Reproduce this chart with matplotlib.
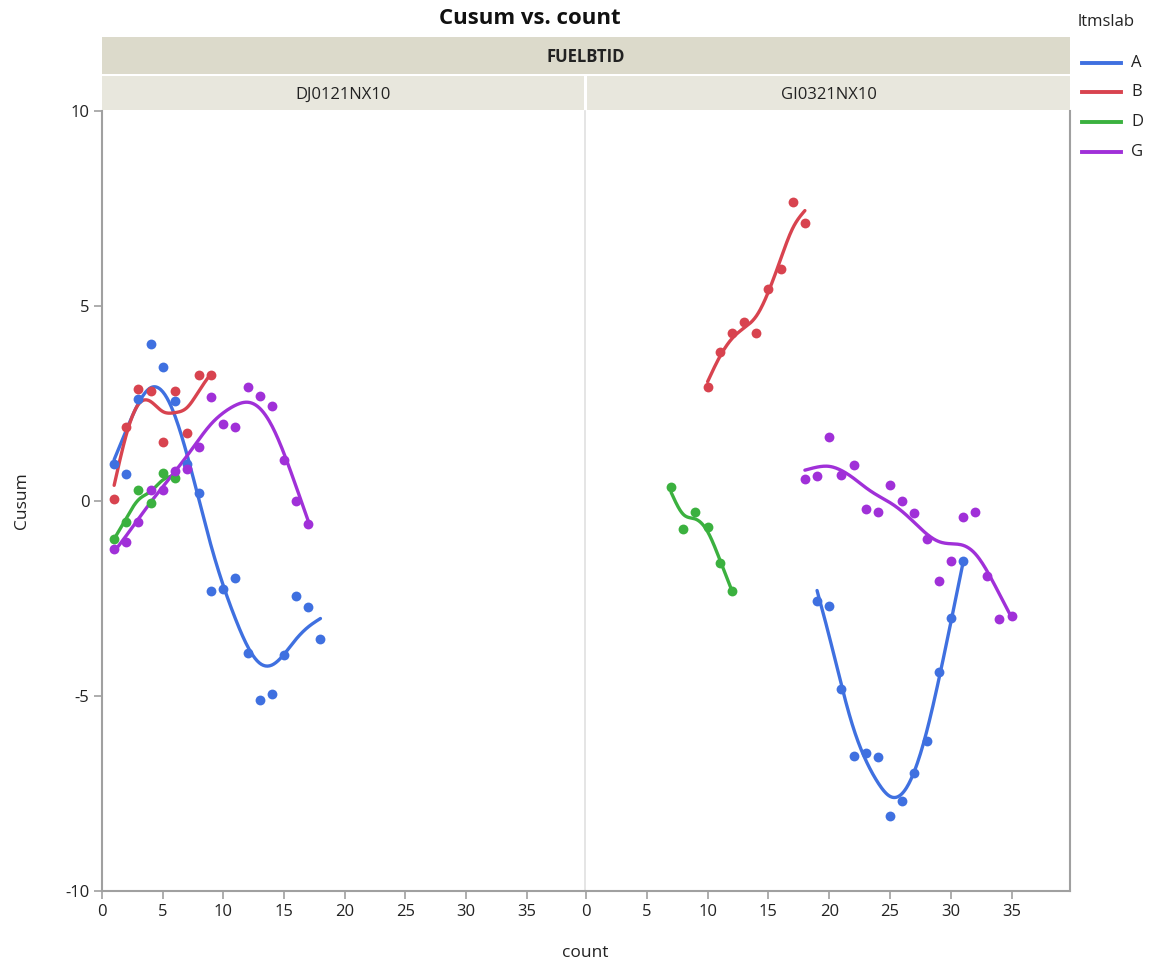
import numpy as np
import matplotlib
matplotlib.use("Agg")
import matplotlib.pyplot as plt
from matplotlib.lines import Line2D

plt.rcParams['font.family'] = ['Open Sans', 'DejaVu Sans']
plt.rcParams['axes.unicode_minus'] = False

# ---------------- data ----------------
panels = ["DJ0121NX10", "GI0321NX10"]
groups = ["A", "B", "D", "G"]
colors = {"A": "#3f70e0", "B": "#d8434f", "D": "#3bb13f", "G": "#a030d8"}

# DJ0121NX10
dj_A_x = list(range(1, 19))
dj_A_y = [0.95, 0.69, 2.62, 4.03, 3.43, 2.57, 0.95, 0.2, -2.3, -2.25, -1.97, -3.9,
          -5.1, -4.95, -3.95, -2.44, -2.72, -3.54]
dj_B_x = list(range(1, 10))
dj_B_y = [0.05, 1.9, 2.88, 2.82, 1.51, 2.82, 1.75, 3.24, 3.22]
dj_D_x = list(range(1, 7))
dj_D_y = [-0.97, -0.54, 0.28, -0.04, 0.73, 0.59]
dj_G_x = list(range(1, 18))
dj_G_y = [-1.22, -1.05, -0.54, 0.27, 0.28, 0.78, 0.82, 1.38, 2.66, 1.97, 1.9, 2.92,
          2.69, 2.43, 1.05, 0.01, -0.59]

# GI0321NX10
gi_A_x = list(range(19, 32))
gi_A_y = [-2.56, -2.69, -4.81, -6.54, -6.45, -6.56, -8.07, -7.69, -6.97, -6.15,
          -4.38, -3.0, -1.53]
gi_B_x = list(range(10, 19))
gi_B_y = [2.93, 3.82, 4.3, 4.59, 4.3, 5.43, 5.94, 7.67, 7.12]
gi_D_x = list(range(7, 13))
gi_D_y = [0.37, -0.71, -0.27, -0.66, -1.6, -2.3]
gi_G_x = list(range(18, 36))
gi_G_y = [0.56, 0.64, 1.63, 0.66, 0.92, -0.21, -0.28, 0.42, -0.01, -0.3, -0.97,
          -2.04, -1.55, -0.4, -0.28, -1.92, -3.03, -2.95]

data = {
    "DJ0121NX10": {"A": (dj_A_x, dj_A_y), "B": (dj_B_x, dj_B_y),
                   "D": (dj_D_x, dj_D_y), "G": (dj_G_x, dj_G_y)},
    "GI0321NX10": {"A": (gi_A_x, gi_A_y), "B": (gi_B_x, gi_B_y),
                   "D": (gi_D_x, gi_D_y), "G": (gi_G_x, gi_G_y)},
}


# ---------------- smoothing spline (JMP-like, lambda on standardized x) ----
def smoothing_spline(x, y, lam_std=0.03, npts=200):
    x = np.asarray(x, float)
    y = np.asarray(y, float)
    n = len(x)
    s = x.std(ddof=1)
    lam = lam_std * s ** 3
    h = np.diff(x)
    Q = np.zeros((n, n - 2))
    R = np.zeros((n - 2, n - 2))
    for j in range(1, n - 1):
        Q[j - 1, j - 1] = 1 / h[j - 1]
        Q[j, j - 1] = -1 / h[j - 1] - 1 / h[j]
        Q[j + 1, j - 1] = 1 / h[j]
        R[j - 1, j - 1] = (h[j - 1] + h[j]) / 3
        if j < n - 2:
            R[j - 1, j] = h[j] / 6
            R[j, j - 1] = h[j] / 6
    K = Q @ np.linalg.solve(R, Q.T)
    g = np.linalg.solve(np.eye(n) + lam * K, y)
    gam = np.linalg.solve(R, Q.T @ g)
    gam = np.concatenate([[0.0], gam, [0.0]])
    xs = np.linspace(x[0], x[-1], npts)
    ys = np.empty_like(xs)
    for k, xv in enumerate(xs):
        i = min(np.searchsorted(x, xv, side="right") - 1, n - 2)
        i = max(i, 0)
        hi = h[i]
        a = (x[i + 1] - xv) / hi
        b = (xv - x[i]) / hi
        ys[k] = (a * g[i] + b * g[i + 1]
                 + ((a ** 3 - a) * gam[i] + (b ** 3 - b) * gam[i + 1]) * hi ** 2 / 6)
    return xs, ys


# ---------------- figure ----------------
W, H = 1162, 968
fig = plt.figure(figsize=(W / 100, H / 100), dpi=100)

def fx(px):
    return px / W

def fy(py):
    return 1 - py / H

top, bottom = 111, 891
lefts = [(102, 585), (586, 1070)]
axes = []
for (l, r) in lefts:
    ax = fig.add_axes([fx(l), fy(bottom), fx(r - l), (bottom - top) / H])
    axes.append(ax)

grey = "#a0a0a0"
for i, (ax, pname) in enumerate(zip(axes, panels)):
    for g in groups:
        x, y = data[pname][g]
        ax.scatter(x, y, s=50, color=colors[g], zorder=3, linewidths=0)
        xs, ys = smoothing_spline(x, y)
        ax.plot(xs, ys, color=colors[g], lw=2.4, zorder=2, solid_capstyle="round")
    ax.set_xlim(0, 39.8)
    ax.set_ylim(-10, 10)
    ax.set_xticks(range(0, 40, 5))
    ax.set_yticks([-10, -5, 0, 5, 10])
    for sp in ax.spines.values():
        sp.set_visible(False)
    ax.spines["bottom"].set_visible(True)
    ax.spines["bottom"].set_color(grey)
    ax.spines["bottom"].set_linewidth(1.5)
    ax.tick_params(axis="x", colors=grey, labelcolor="#222222", labelsize=12,
                   length=6, width=1.2, direction="out", pad=3)
    if i == 0:
        ax.spines["left"].set_visible(True)
        ax.spines["left"].set_color(grey)
        ax.spines["left"].set_linewidth(1.5)
        ax.spines["right"].set_visible(True)
        ax.spines["right"].set_color("#e0e0e0")
        ax.spines["right"].set_linewidth(1.2)
        ax.tick_params(axis="y", colors=grey, labelcolor="#222222", labelsize=12,
                       length=6, width=1.2, direction="out", pad=3)
    else:
        ax.spines["right"].set_visible(True)
        ax.spines["right"].set_color(grey)
        ax.spines["right"].set_linewidth(1.5)
        ax.tick_params(axis="y", left=False, labelleft=False)

# strips
strip_top = fig.add_axes([fx(102), fy(74), fx(1070 - 102), 37 / H])
strip_top.set_facecolor("#dcdacb")
strip_top.set_xticks([]); strip_top.set_yticks([])
for sp in strip_top.spines.values():
    sp.set_visible(False)
strip_top.text(0.5, 0.45, "FUELBTID", ha="center", va="center", fontsize=12,
               fontweight="bold", color="#222222", transform=strip_top.transAxes)

for (l, r), pname in zip([(102, 584), (587, 1070)], panels):
    sa = fig.add_axes([fx(l), fy(110), fx(r - l), 34 / H])
    sa.set_facecolor("#e8e7dd")
    sa.set_xticks([]); sa.set_yticks([])
    for sp in sa.spines.values():
        sp.set_visible(False)
    sa.text(0.5, 0.45, pname, ha="center", va="center", fontsize=12,
            color="#222222", transform=sa.transAxes)

fig.text(fx(530), fy(18), "Cusum vs. count", ha="center", va="center",
         fontsize=16, fontweight="bold", color="#111111")
fig.text(fx(22), fy(501), "Cusum", ha="center", va="center", rotation=90,
         fontsize=12.5, color="#222222")
fig.text(fx(585), fy(953), "count", ha="center", va="center",
         fontsize=12.5, color="#222222")

# legend
fig.text(fx(1078), fy(22), "ltmslab", ha="left", va="center", fontsize=12,
         color="#222222")
leg_y = [63, 92, 122, 152]
for g, py in zip(groups, leg_y):
    fig.add_artist(Line2D([fx(1082), fx(1121)], [fy(py), fy(py)], color=colors[g],
                          lw=2.8, transform=fig.transFigure))
    fig.text(fx(1131), fy(py), g, ha="left", va="center", fontsize=12,
             color="#222222")

fig.savefig("out.png", dpi=100)
